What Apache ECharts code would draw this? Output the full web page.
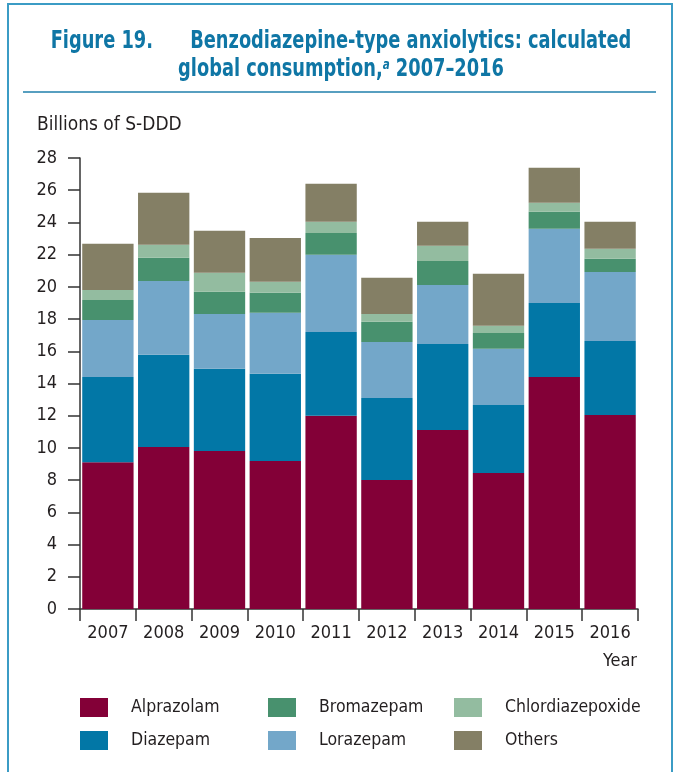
<!DOCTYPE html>
<html>
<head>
<meta charset="utf-8">
<script src="https://cdn.jsdelivr.net/npm/echarts@6/dist/echarts.min.js"></script>
<style>
html,body{margin:0;padding:0;background:#fff;}
#chart{width:675px;height:772px;}
</style>
</head>
<body>
<div id="chart"></div>
<script>
const years = ['2007','2008','2009','2010','2011','2012','2013','2014','2015','2016'];
const alprazolam = [9.11, 10.06, 9.81, 9.19, 12.0, 8.01, 11.12, 8.45, 14.41, 12.05];
const diazepam = [5.30, 5.72, 5.10, 5.41, 5.20, 5.09, 5.34, 4.22, 4.59, 4.59];
const lorazepam = [3.54, 4.59, 3.41, 3.79, 4.79, 3.48, 3.66, 3.48, 4.60, 4.29];
const bromazepam = [1.24, 1.43, 1.37, 1.24, 1.36, 1.25, 1.49, 0.99, 1.06, 0.81];
const chlordiazepoxide = [0.62, 0.81, 1.18, 0.68, 0.69, 0.49, 0.94, 0.44, 0.56, 0.62];
const others = [2.86, 3.23, 2.61, 2.73, 2.36, 2.24, 1.49, 3.23, 2.17, 1.68];
const yTicks = [0, 28, 2];

const FONT = '"DejaVu Sans Condensed","Liberation Sans Narrow",sans-serif';
const TXT = '#231f20';
const TITLE_C = '#0f76a5';
const seriesDefs = [
  ['Alprazolam', alprazolam, '#830037'],
  ['Diazepam', diazepam, '#0277a6'],
  ['Lorazepam', lorazepam, '#73a7c9'],
  ['Bromazepam', bromazepam, '#48916e'],
  ['Chlordiazepoxide', chlordiazepoxide, '#93bca0'],
  ['Others', others, '#847f65']
];
const legendPos = {
  'Alprazolam': [80, 698], 'Bromazepam': [268, 698], 'Chlordiazepoxide': [454, 698],
  'Diazepam': [80, 731], 'Lorazepam': [268, 731], 'Others': [454, 731]
};

const chart = echarts.init(document.getElementById('chart'), null, {renderer: 'canvas'});
const option = {
  animation: false,
  textStyle: {fontFamily: FONT},
  legend: seriesDefs.map(d => ({
    data: [d[0]], left: legendPos[d[0]][0], top: legendPos[d[0]][1],
    icon: 'rect', itemWidth: 28, itemHeight: 19, padding: 0,
    selectedMode: false,
    textStyle: {fontFamily: FONT, fontSize: 17.5, color: TXT, padding: [0,0,0,18]}
  })),
  grid: {left: 80, right: 37, top: 158, bottom: 163, containLabel: false},
  xAxis: {
    type: 'category', data: years,
    axisLine: {lineStyle: {color: '#333', width: 1.5}},
    axisTick: {show: true, length: 12, alignWithLabel: false, interval: 0, lineStyle: {color: '#333', width: 1.5}},
    axisLabel: {fontFamily: FONT, fontSize: 18, color: TXT, margin: 15, interval: 0}
  },
  yAxis: {
    type: 'value', min: yTicks[0], max: yTicks[1], interval: yTicks[2],
    axisLine: {show: true, lineStyle: {color: '#333', width: 1.5}},
    axisTick: {show: true, length: 12, lineStyle: {color: '#333', width: 1.5}},
    axisLabel: {fontFamily: FONT, fontSize: 18, color: TXT, margin: 23},
    splitLine: {show: false}
  },
  series: seriesDefs.map(d => ({
    name: d[0], type: 'bar', stack: 'total', data: d[1],
    itemStyle: {color: d[2]}, barCategoryGap: '8%'
  })),
  graphic: [
    {type: 'rect', shape: {x: 8, y: 4, width: 664, height: 800}, style: {fill: 'none', stroke: '#3b9cc5', lineWidth: 2}, silent: true},
    {type: 'line', shape: {x1: 23, y1: 92, x2: 656, y2: 92}, style: {stroke: '#1f7fab', lineWidth: 1.5}},
    {type: 'group', x: 341, y: 30, scaleX: 0.825, children: [
      {type: 'text', x: 0, y: 0, style: {
        text: 'Figure 19.      Benzodiazepine-type anxiolytics: calculated',
        font: 'bold 24px ' + FONT, fill: TITLE_C, align: 'center', verticalAlign: 'top'}},
      {type: 'text', x: 0, y: 28, style: {
        text: 'global consumption,{sup|a} 2007–2016',
        font: 'bold 24px ' + FONT, fill: TITLE_C, align: 'center', verticalAlign: 'top',
        rich: {sup: {font: 'bold italic 14px ' + FONT, fill: TITLE_C, verticalAlign: 'top', padding: [0,0,10,0]}}}}
    ]},
    {type: 'text', left: 37, top: 116, style: {text: 'Billions of S-DDD', font: '19px ' + FONT, fill: TXT}},
    {type: 'text', right: 38, top: 652, style: {text: 'Year', font: '18px ' + FONT, fill: TXT}}
  ]
};
chart.setOption(option);
</script>
</body>
</html>
